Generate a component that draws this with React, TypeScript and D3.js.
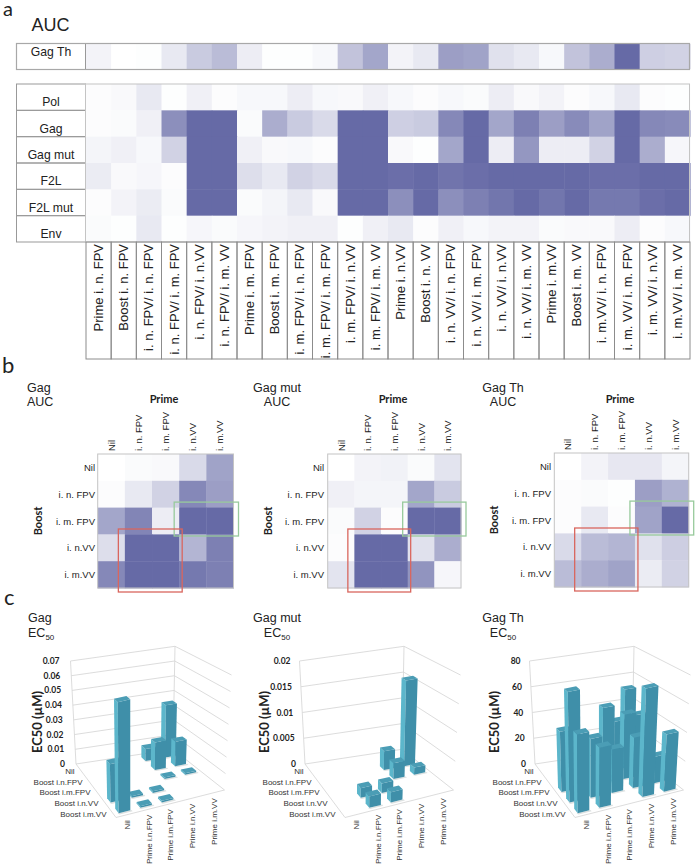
import * as d3 from 'd3';
import React, { useRef, useEffect } from 'react';

// panel a
const comboLabels = [
  'Prime i. n. FPV', 'Boost i. n. FPV', 'i. n. FPV/ i. n. FPV', 'i. n. FPV/ i. m. FPV', 'i. n. FPV/ i. n.VV', 'i. n. FPV/ i. m. VV',
  'Prime i. m. FPV', 'Boost i. m. FPV', 'i. m. FPV/ i. n. FPV', 'i. m. FPV/ i. m. FPV', 'i. m. FPV/ i. n.VV', 'i. m. FPV/ i. m. VV',
  'Prime i. n.VV', 'Boost i. n. VV', 'i. n. VV/ i. n. FPV', 'i. n. VV/ i. m. FPV', 'i. n. VV/ i. n.VV', 'i. n. VV/ i. m. VV',
  'Prime i. m.VV', 'Boost i. m. VV', 'i. m.VV/ i. n. FPV', 'i. m. VV/ i. m. FPV', 'i. m. VV/ i. n.VV', 'i. m.VV/ i. m. VV',
];
const gagThRow = [.08, 0, .01, .15, .35, .45, .12, .01, .01, .05, .4, .6, .08, .15, .65, .62, .2, .15, .05, .4, .55, 1, .32, .3];
const polRow = [.02, .04, .15, .01, .1, .02, .05, .05, .12, .05, .04, .1, .05, .02, .05, .03, .12, .04, .08, .02, .05, .15, .02, .01];
const gagRow = [.02, .03, .1, .75, 1, 1, .03, .55, .35, .25, 1, 1, .32, .35, .8, 1, .6, .85, .65, .78, .62, 1, .8, .78];
const gagMutRow = [.07, .1, .05, .3, 1, 1, .1, .04, .05, .02, 1, 1, .04, .01, .6, 1, .12, .7, .12, .12, .3, 1, .55, .06];
const f2lRow = [.13, .04, .06, .02, 1, 1, .22, .15, .3, .25, 1, 1, .97, 1, .93, .97, 1, 1, 1, 1, .97, .97, 1, 1];
const f2lMutRow = [.02, .08, .13, .03, 1, 1, .03, .07, .15, .04, 1, 1, .75, 1, .75, .85, .92, 1, .92, 1, .9, .9, .97, 1];
const envRow = [.03, .01, .15, .01, .06, .03, .06, .08, .1, .1, .01, .1, .15, .02, .1, .05, .08, .08, .03, .04, .04, .12, .02, .05];
const antigenNames = ['Pol', 'Gag', 'Gag mut', 'F2L', 'F2L mut', 'Env'];
const antigenRows = [polRow, gagRow, gagMutRow, f2lRow, f2lMutRow, envRow];

// panel b
const primeLabels = ['Nil', 'i. n. FPV', 'i. m. FPV', 'i. n.VV', 'i. m.VV'];
const boostLabels = ['Nil', 'i. n. FPV', 'i. m. FPV', 'i. n.VV', 'i. m.VV'];
const gagAuc = [
  [0, .03, .04, .25, .62],
  [.02, .15, .3, .8, .65],
  [.6, .82, .12, 1, 1],
  [.22, 1, 1, .5, .85],
  [.8, 1, 1, .9, .85],
];
const gagMutAuc = [
  [0, .08, .09, .03, .18],
  [.1, .07, .07, .6, .35],
  [.03, .3, .02, 1, 1],
  [.02, 1, 1, .2, .55],
  [.18, 1, 1, .72, .06],
];
const gagThAuc = [
  [0, .08, .16, .16, .07],
  [.02, .03, .01, .65, .52],
  [.02, .15, .02, .62, 1],
  [.25, .45, .5, .2, .33],
  [.45, .55, .62, .13, .3],
];

// panel c
const primeBarLabels = ['Nil', 'Prime i.n.FPV', 'Prime i.m.FPV', 'Prime i.n.VV', 'Prime i.m.VV'];
const boostBarLabels = ['Nil', 'Boost i.n.FPV', 'Boost i.m.FPV', 'Boost i.n.VV', 'Boost i.m.VV'];
const gagEc50 = [
  [0, 0, 0, .008, .035],
  [0, 0, 0, .018, .016],
  [0, 0, 0, .001, .001],
  [.024, .001, .001, 0, 0],
  [.068, .001, .001, 0, 0],
];
const gagMutEc50 = [
  [0, 0, 0, 0, 0],
  [0, 0, 0, .0035, .016],
  [0, 0, 0, .0029, .0013],
  [0, .0017, .0017, 0, 0],
  [0, .002, .0018, 0, 0],
];
const gagThEc50 = [
  [0, 0, 0, 0, 52],
  [0, 0, 0, 36, 38],
  [44, 0, 55, 47, 0],
  [79, 42, 31, 36, 19],
  [55, 42, 0, 76, 40],
];
const gagTicks = [0, .01, .02, .03, .04, .05, .06, .07];
const gagMutTicks = [0, .005, .01, .015, .02];
const gagThTicks = [0, 20, 40, 60, 80];

const sans = '"Liberation Sans", Arial, sans-serif';
const bold = 'Lato, sans-serif';
const color = d3.scaleLinear<string>().domain([0, 1]).range(['#ffffff', '#666aa6']);

function drawTopHeat(svg) {
  const x = d3.scaleBand().domain(comboLabels).range([86, 690]);
  const y = d3.scaleBand().domain(antigenNames).range([84, 242]);
  const rowH = y.bandwidth();

  gagThRow.forEach((v, i) => {
    svg.append('rect').attr('x', x(comboLabels[i])).attr('y', 44).attr('width', x.bandwidth() + .5).attr('height', 25).attr('fill', color(v));
  });
  svg.append('rect').attr('x', 16.5).attr('y', 43.5).attr('width', 673).attr('height', 26)
    .attr('fill', 'none').attr('stroke', '#a8a8a8').attr('stroke-width', 1.2);
  svg.append('line').attr('x1', 85.5).attr('x2', 85.5).attr('y1', 44).attr('y2', 69).attr('stroke', '#999');
  svg.append('text').attr('x', 51).attr('y', 56).attr('text-anchor', 'middle').attr('font-size', 12.2).text('Gag Th');

  antigenRows.forEach((row, r) => {
    const name = antigenNames[r];
    row.forEach((v, i) => {
      svg.append('rect').attr('x', x(comboLabels[i])).attr('y', y(name)).attr('width', x.bandwidth() + .5).attr('height', rowH + .5).attr('fill', color(v));
    });
    svg.append('rect').attr('x', 16.5).attr('y', y(name)).attr('width', 69).attr('height', rowH)
      .attr('fill', 'none').attr('stroke', '#999');
    svg.append('text').attr('x', 51).attr('y', y(name) + rowH - 4).attr('text-anchor', 'middle').attr('font-size', 12.2).text(name);
  });
  svg.append('rect').attr('x', 85.5).attr('y', 84).attr('width', 604).attr('height', 158)
    .attr('fill', 'none').attr('stroke', '#c4c4c4');

  comboLabels.forEach(label => {
    svg.append('rect').attr('x', x(label)).attr('y', 242).attr('width', x.bandwidth()).attr('height', 117)
      .attr('fill', 'none').attr('stroke', '#8c8c8c');
    svg.append('text')
      .attr('transform', `translate(${x(label) + x.bandwidth() / 2 + 4.5},244) rotate(-90)`)
      .attr('text-anchor', 'end').attr('font-size', 13).text(label);
  });
}

function drawMatrix(svg, opts) {
  const { matrix, left, right, top, bottom, titleX, titleAnchor, title, primeX, boostX, labelRight } = opts;
  const x = d3.scaleBand().domain(d3.range(5).map(String)).range([left, right]);
  const y = d3.scaleBand().domain(d3.range(5).map(String)).range([top, bottom]);

  matrix.forEach((row, r) => row.forEach((v, c) => {
    svg.append('rect').attr('x', x(String(c))).attr('y', y(String(r)))
      .attr('width', x.bandwidth() + .4).attr('height', y.bandwidth() + .4).attr('fill', color(v));
  }));
  svg.append('rect').attr('x', left).attr('y', top).attr('width', right - left).attr('height', bottom - top)
    .attr('fill', 'none').attr('stroke', '#c4c4c4');

  primeLabels.forEach((label, c) => {
    svg.append('text')
      .attr('transform', `translate(${x(String(c)) + x.bandwidth() / 2 + 3.5},${top - 3}) rotate(-90)`)
      .attr('font-size', 9.5).text(label);
  });
  boostLabels.forEach((label, r) => {
    svg.append('text').attr('x', labelRight).attr('y', y(String(r)) + y.bandwidth() / 2 + 3.5)
      .attr('text-anchor', 'end').attr('font-size', 9.5).text(label);
  });

  svg.append('text').attr('x', titleX).attr('y', 392).attr('text-anchor', titleAnchor).attr('font-size', 12.5).text(title);
  svg.append('text').attr('x', titleX).attr('y', 406).attr('text-anchor', titleAnchor).attr('font-size', 12.5).text('AUC');
  svg.append('text').attr('x', primeX).attr('y', 403).attr('text-anchor', 'middle')
    .attr('font-family', bold).attr('font-weight', 700).attr('font-size', 11).text('Prime');
  svg.append('text').attr('transform', `translate(${boostX},${(top + bottom) / 2}) rotate(-90)`).attr('text-anchor', 'middle')
    .attr('font-family', bold).attr('font-weight', 700).attr('font-size', 11).text('Boost');

  const box = (c0, c1, r0, r1, pads, stroke) => {
    const bx0 = x(String(c0)) - pads[0];
    const bx1 = x(String(c1)) + x.bandwidth() + pads[1];
    const by0 = y(String(r0)) - pads[2];
    const by1 = y(String(r1)) + y.bandwidth() + pads[3];
    svg.append('rect').attr('x', bx0).attr('y', by0).attr('width', bx1 - bx0).attr('height', by1 - by0)
      .attr('fill', 'none').attr('stroke', stroke).attr('stroke-width', 1.3);
  };
  box(3, 4, 2, 2, [5, 5, 5.5, 1.6], '#98ca9c');
  box(1, 2, 3, 4, [6.5, 3, 5.4, 4], '#d9665e');
}

// floor corners of the 3D charts, relative to the panel's left edge
const L = [75, 764], F = [115, 817.5], R = [223.5, 790], B = [172, 749.3];
const wallH = { L: 103, F: 115, R: 115, B: 103 };
const lean = { L: -5.5, F: -1, R: 7, B: 2 };

const bilerp = (u, v, a, b, c, d) => (1 - u) * (1 - v) * a + u * (1 - v) * b + u * v * c + (1 - u) * v * d;
// u runs along the boost axis (Nil -> i.m.VV), v along the prime axis, t is 0..1 of wall height
function project(u, v, t, dx) {
  const h = bilerp(u, v, wallH.L, wallH.F, wallH.R, wallH.B);
  const lx = bilerp(u, v, lean.L, lean.F, lean.R, lean.B);
  return [
    bilerp(u, v, L[0], F[0], R[0], B[0]) + dx + lx * t,
    bilerp(u, v, L[1], F[1], R[1], B[1]) - h * t,
  ];
}

function drawBars(svg, opts) {
  const { matrix, ticks, dx, title, titleX, titleAnchor, tickGap, axisX } = opts;
  const t = d3.scaleLinear().domain([0, ticks[ticks.length - 1]]).range([0, 1]);
  const g = svg.append('g');
  const poly = (pts, fill) => g.append('polygon').attr('points', pts.map(p => p.join(',')).join(' ')).attr('fill', fill);
  const wallLine = (a, b) => g.append('line').attr('x1', a[0]).attr('y1', a[1]).attr('x2', b[0]).attr('y2', b[1])
    .attr('stroke', '#d8d8d8').attr('stroke-width', .9);

  ticks.forEach(tick => {
    const tt = t(tick);
    wallLine(project(0, 0, tt, dx), project(0, 1, tt, dx));
    wallLine(project(0, 1, tt, dx), project(1, 1, tt, dx));
    const p = project(0, 0, tt, dx);
    g.append('text').attr('x', p[0] - tickGap).attr('y', p[1] + 3).attr('text-anchor', 'end')
      .attr('font-family', bold).attr('font-weight', 700).attr('font-size', 8.5).text(String(tick));
  });
  wallLine(project(0, 0, 0, dx), project(0, 0, 1, dx));
  wallLine(project(0, 1, 0, dx), project(0, 1, 1, dx));
  wallLine(project(0, 0, 0, dx), project(1, 0, 0, dx));
  wallLine(project(1, 0, 0, dx), project(1, 1, 0, dx));

  primeBarLabels.forEach((label, c) => {
    const p = project(1, (c + .5) / 5, 0, dx);
    g.append('text').attr('transform', `translate(${p[0] + 3},${p[1] + 5.5}) rotate(-90)`)
      .attr('text-anchor', 'end').attr('font-size', 8).attr('fill', '#333').text(label);
  });
  boostBarLabels.forEach((label, r) => {
    const p = project((r + .5) / 5, 0, 0, dx);
    g.append('text').attr('x', p[0] - 5.5).attr('y', p[1] + 4.5)
      .attr('text-anchor', 'end').attr('font-size', 8).attr('fill', '#333').text(label);
  });

  g.append('text').attr('transform', `translate(${axisX},722) rotate(-90)`).attr('text-anchor', 'middle')
    .attr('font-family', bold).attr('font-weight', 700).attr('font-size', 13).text('EC50 (µM)');

  const titleG = g.append('g').attr('text-anchor', titleAnchor).attr('font-size', 12.5);
  titleG.append('text').attr('x', titleX).attr('y', 622).text(title);
  const ec = titleG.append('text').attr('x', titleX).attr('y', 637);
  ec.append('tspan').text('EC');
  ec.append('tspan').attr('font-size', 8).attr('dy', 3).text('50');

  const halfU = .042, halfV = .054;
  const cells = [];
  matrix.forEach((row, r) => row.forEach((v, c) => {
    if (v > 0) cells.push({ r, c, v });
  }));
  cells.sort((a, b) => (a.r - a.c) - (b.r - b.c));

  cells.forEach(({ r, c, v }) => {
    const u = (r + .5) / 5, w = (c + .5) / 5, tt = t(v);
    const u0 = u - halfU, u1 = u + halfU, w0 = w - halfV, w1 = w + halfV;
    poly([project(u1, w0 - .012, 0, dx), project(u1 + .025, w0, 0, dx), project(u1 + .025, w1 + .012, 0, dx), project(u1, w1 + .012, 0, dx)], '#dde1e1');
    poly([project(u0, w0, 0, dx), project(u1, w0, 0, dx), project(u1, w0, tt, dx), project(u0, w0, tt, dx)], '#5cb6cb');
    poly([project(u1, w0, 0, dx), project(u1, w1, 0, dx), project(u1, w1, tt, dx), project(u1, w0, tt, dx)], '#3f8fa9');
    poly([project(u0, w0, tt, dx), project(u1, w0, tt, dx), project(u1, w1, tt, dx), project(u0, w1, tt, dx)], '#4b9db5');
  });
}

function App() {
  const ref = useRef(null);

  useEffect(() => {
    const svg = d3.select(ref.current);
    svg.selectAll('*').remove();
    svg.attr('font-family', sans).attr('fill', '#222');

    svg.append('text').attr('x', 3).attr('y', 16).attr('font-family', bold).attr('font-size', 20).text('a');
    svg.append('text').attr('x', 2).attr('y', 373).attr('font-family', bold).attr('font-size', 22).text('b');
    svg.append('text').attr('x', 4).attr('y', 605).attr('font-family', bold).attr('font-size', 22).text('c');
    svg.append('text').attr('x', 31.5).attr('y', 31).attr('font-size', 18).text('AUC');

    drawTopHeat(svg);

    drawMatrix(svg, { matrix: gagAuc, left: 97.7, right: 233.5, top: 454, bottom: 588, title: 'Gag', titleX: 27, titleAnchor: 'start', primeX: 164, boostX: 42, labelRight: 95 });
    drawMatrix(svg, { matrix: gagMutAuc, left: 327.7, right: 461, top: 454, bottom: 588, title: 'Gag mut', titleX: 277, titleAnchor: 'middle', primeX: 393, boostX: 272, labelRight: 324 });
    drawMatrix(svg, { matrix: gagThAuc, left: 554.3, right: 688.7, top: 453, bottom: 587, title: 'Gag Th', titleX: 503, titleAnchor: 'middle', primeX: 620, boostX: 498, labelRight: 551 });

    drawBars(svg, { matrix: gagEc50, ticks: gagTicks, dx: 1, title: 'Gag', titleX: 28, titleAnchor: 'start', tickGap: 11, axisX: 42 });
    drawBars(svg, { matrix: gagMutEc50, ticks: gagMutTicks, dx: 230, title: 'Gag mut', titleX: 277, titleAnchor: 'middle', tickGap: 9, axisX: 269 });
    drawBars(svg, { matrix: gagThEc50, ticks: gagThTicks, dx: 460, title: 'Gag Th', titleX: 503, titleAnchor: 'middle', tickGap: 9, axisX: 499 });
  }, []);

  return (
    <svg ref={ref} width={697} height={866}
         style={{ position: 'absolute', left: 0, top: 0, background: '#fff' }} />
  );
}

export default App;
